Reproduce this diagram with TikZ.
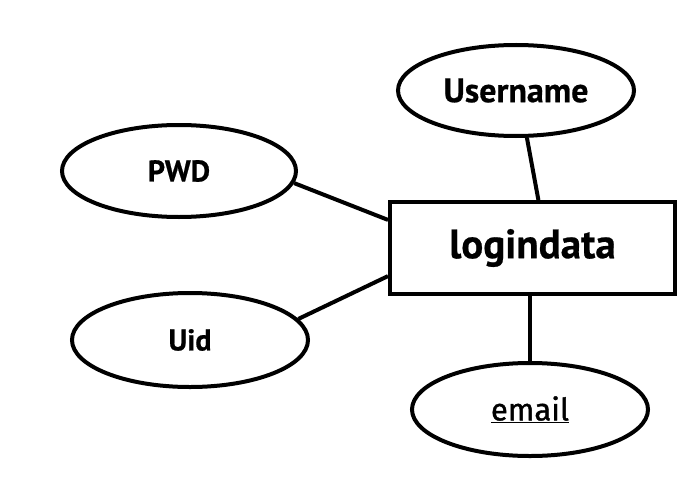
\documentclass[tikz,border=0pt]{standalone}
\usepackage{fontspec}
\setmainfont{PT Sans}[BoldFeatures={FakeBold=0.6}]
\newfontfamily\emfont[FakeBold=1.2]{Fira Sans}
\usetikzlibrary{shapes.geometric}
\begin{document}
\begin{tikzpicture}[x=1pt,y=-1pt,
  attr/.style={ellipse,draw,line width=4pt,inner sep=0pt,font=\bfseries\fontsize{30}{32}\selectfont},
  ent/.style={rectangle,draw,line width=4pt,inner sep=0pt,font=\bfseries\fontsize{41}{43}\selectfont},
  conn/.style={line width=4pt}]
\useasboundingbox (0,0) rectangle (700,500);
\node[ent,minimum width=285pt,minimum height=92pt] (ld) at (532.5,248) {logindata};
\node[attr,minimum width=236pt,minimum height=91pt,font=\bfseries\fontsize{34}{36}\selectfont] (un) at (516,90.5) {Username};
\node[attr,minimum width=234pt,minimum height=92pt] (pwd) at (179,171) {PWD};
\node[attr,minimum width=236pt,minimum height=94pt] (uid) at (190,340) {Uid};
\node[attr,minimum width=236pt,minimum height=93pt,font=\emfont\fontsize{31}{33}\selectfont] (em) at (530,409.5) {\underline{email}};
\draw[conn] (un.-77) -- (ld.83);
\draw[conn] (pwd.-6) -- (ld.169);
\draw[conn] (uid.11.5) -- (ld.-169.7);
\draw[conn] (em.north) -- (em.north |- ld.south);
\end{tikzpicture}
\end{document}
